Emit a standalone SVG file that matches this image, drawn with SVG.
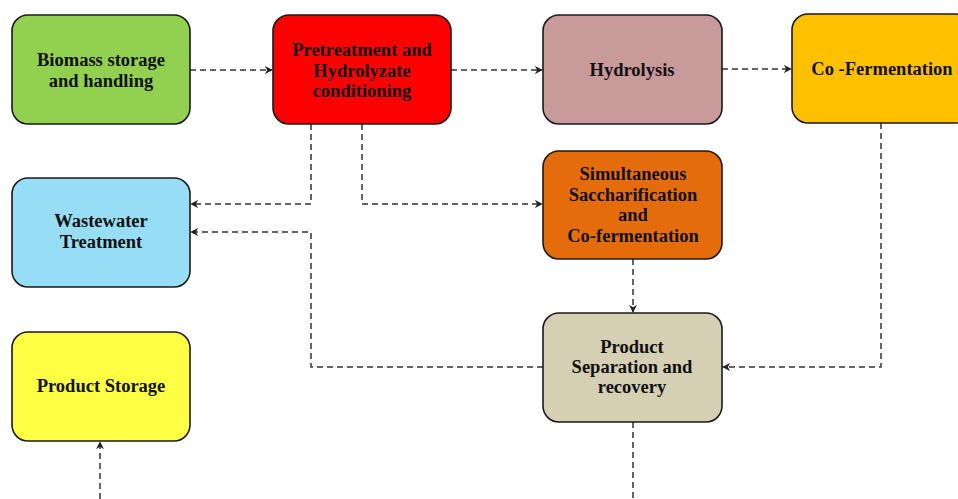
<svg xmlns="http://www.w3.org/2000/svg" width="958" height="499" viewBox="0 0 958 499">
<style>
.box{stroke:#1a1a1a;stroke-width:1.6}
.t{font-family:"Liberation Serif","Times New Roman",serif;font-weight:bold;font-size:18.5px;fill:#111;text-anchor:middle}
.c{fill:none;stroke:#333;stroke-width:1.5;stroke-dasharray:6 4}
</style>
<defs>
<marker id="ar" viewBox="0 0 10 10" refX="9" refY="5" markerWidth="8" markerHeight="8" markerUnits="userSpaceOnUse" orient="auto">
<path d="M0,0 L10,5 L0,10 L3,5 Z" fill="#222"/>
</marker>
</defs>
<rect width="958" height="499" fill="#fff"/>
<g id="connectors">
<path class="c" d="M190,70 H272" marker-end="url(#ar)"/>
<path class="c" d="M451,70 H542" marker-end="url(#ar)"/>
<path class="c" d="M722,69 H791" marker-end="url(#ar)"/>
<path class="c" d="M311,124 V204 H191" marker-end="url(#ar)"/>
<path class="c" d="M362,124 V204 H542" marker-end="url(#ar)"/>
<path class="c" d="M543,367 H311 V232 H191" marker-end="url(#ar)"/>
<path class="c" d="M633,259 V312" marker-end="url(#ar)"/>
<path class="c" d="M881,123 V367 H723" marker-end="url(#ar)"/>
<path class="c" d="M633,422 V499"/>
<path class="c" d="M100,499 V442" marker-end="url(#ar)"/>
</g>
<g id="biomass">
<rect class="box" x="12" y="15" width="178" height="109" rx="16" fill="#92D050"/>
<text class="t" x="101" y="66">Biomass storage</text>
<text class="t" x="101" y="87">and handling</text>
</g>
<g id="pretreatment">
<rect class="box" x="273" y="15" width="178" height="109" rx="16" fill="#FF0000"/>
<text class="t" x="362" y="56">Pretreatment and</text>
<text class="t" x="362" y="77">Hydrolyzate</text>
<text class="t" x="362" y="97">conditioning</text>
</g>
<g id="hydrolysis">
<rect class="box" x="543" y="15" width="179" height="109" rx="16" fill="#C99A9A"/>
<text class="t" x="632" y="76">Hydrolysis</text>
</g>
<g id="cofermentation">
<rect class="box" x="792" y="14" width="179" height="109" rx="16" fill="#FFC000"/>
<text class="t" x="882" y="75">Co -Fermentation</text>
</g>
<g id="wastewater">
<rect class="box" x="12" y="178" width="178" height="109" rx="16" fill="#97DDF5"/>
<text class="t" x="101" y="227">Wastewater</text>
<text class="t" x="101" y="248">Treatment</text>
</g>
<g id="ssc">
<rect class="box" x="543" y="151" width="179" height="108" rx="16" fill="#E46C0A"/>
<text class="t" x="633" y="180">Simultaneous</text>
<text class="t" x="633" y="201">Saccharification</text>
<text class="t" x="633" y="221">and</text>
<text class="t" x="633" y="242">Co-fermentation</text>
</g>
<g id="productstorage">
<rect class="box" x="12" y="332" width="178" height="109" rx="16" fill="#FFFF44"/>
<text class="t" x="101" y="392">Product Storage</text>
</g>
<g id="separation">
<rect class="box" x="543" y="313" width="179" height="109" rx="16" fill="#D5CFB4"/>
<text class="t" x="632" y="353">Product</text>
<text class="t" x="632" y="373">Separation and</text>
<text class="t" x="632" y="393">recovery</text>
</g>
</svg>
